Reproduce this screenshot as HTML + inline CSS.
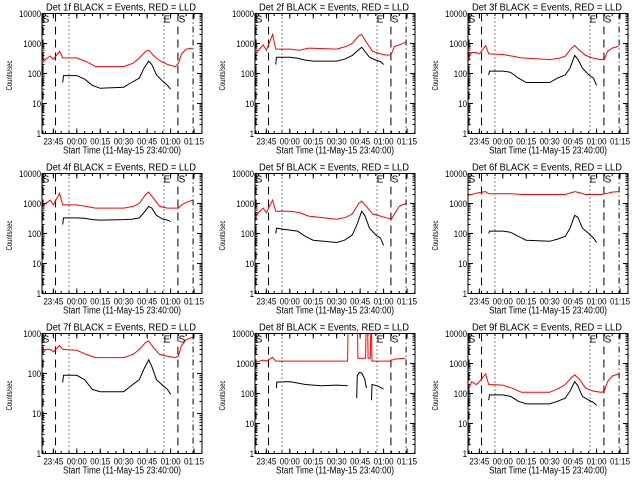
<!DOCTYPE html>
<html><head><meta charset="utf-8"><style>
html,body{margin:0;padding:0;background:#fff;}
svg{display:block;font-family:"Liberation Sans",sans-serif;}
</style></head><body>
<svg id="chart" width="640" height="480" viewBox="0 0 640 480" xmlns="http://www.w3.org/2000/svg"></svg>
<script>
// Shared data
const redTimes = [-22,-20,-17,-15,-11,-9,0,6,12,30,36,40,44,46,49,53,58,63,65,67,70,74];
const blackTimes = [-9,-8.5,0,5,10,15,30,35,40,43,46,48,51,55,58,60];
const tickLabelsX = ["23:45","00:00","00:15","00:30","00:45","01:00","01:15"];
const tickMinutesX = [-15,0,15,30,45,60,75];
const detNames = ["1f","2f","3f","4f","5f","6f","7f","8f","9f"];
const red1 = [220,300,380,300,550,330,330,250,170,170,220,330,550,600,400,270,200,170,220,450,650,700];
const black1 = [50,85,85,65,40,32,35,50,70,150,260,200,90,55,40,30];
const red2 = [470,600,900,600,2000,650,650,600,700,650,800,1000,1800,2000,1100,550,450,400,450,800,900,1100];
const black2 = [200,350,350,320,280,260,260,300,400,550,750,550,350,280,250,200];
const red3 = [300,500,500,450,850,450,430,380,330,290,320,380,700,850,600,400,320,290,300,550,700,800];
const black3 = [90,120,120,110,70,50,50,70,90,150,400,300,150,90,70,40];
const red4 = [700,1000,1300,900,2200,900,900,800,700,700,800,1000,2000,2400,1500,800,700,700,700,900,1100,1300];
const black4 = [200,330,330,320,290,280,290,300,330,500,800,700,400,300,280,250];
const red5 = [350,500,700,500,1300,550,550,500,380,300,350,450,1000,1200,800,450,380,320,300,450,800,1000];
const black5 = [100,150,130,120,80,60,50,60,90,200,550,400,150,90,70,40];
const red6 = [1900,2000,2200,2300,2500,2100,2100,2100,2000,2000,2000,2000,2300,2500,2300,2000,2000,2000,2100,2200,2400,2500];
const black6 = [100,120,120,110,80,60,55,65,80,150,400,350,150,100,70,50];
const red7 = [300,400,400,350,500,400,380,300,250,250,300,400,600,650,450,300,270,250,270,500,700,800];
const black7 = [60,90,90,70,40,35,35,50,70,130,220,150,70,50,40,30];
const redTimes8 = [-22,-17,-15,-11,-9,0,30,37,37.3,43.3,43.6,48.5,48.8,49.8,50.1,51.5,51.8,52.3,52.6,64,67,74];
const red8 = [1100,1300,1200,1600,1200,1200,1200,1200,20000,20000,1500,1500,20000,20000,1500,1500,20000,20000,1200,1200,1400,1500];
const blackTimes8 = [-8.5,-8.3,0,10,20,30,37,38,42.8,43.2,44.5,46,48,49,50,52.3,52.6,56,60];
const black8 = [150,240,250,200,180,190,180,null,70,400,500,480,300,150,null,60,200,180,140];
const red9 = [130,250,200,250,450,200,190,150,110,110,150,200,350,420,300,150,120,110,120,250,380,450];
const black9 = [60,90,90,80,55,45,45,55,70,120,250,180,80,60,50,40];

const panels = [
 {red:red1,black:black1},{red:red2,black:black2},{red:red3,black:black3},
 {red:red4,black:black4},{red:red5,black:black5},{red:red6,black:black6,noLeft:true},
 {red:red7,black:black7,decades:3},{red:red8,black:black8,rt:redTimes8,bt:blackTimes8},{red:red9,black:black9}
];

const svg = document.getElementById('chart');
const NS = 'http://www.w3.org/2000/svg';
function mk(tag, attrs, parent){
  const e = document.createElementNS(NS, tag);
  for (const k in attrs) e.setAttribute(k, attrs[k]);
  (parent||svg).appendChild(e);
  return e;
}
const W = 160, H = 120;

panels.forEach((p, i) => {
  const col = i % 3, row = Math.floor(i / 3);
  const L = 42 + col * 213, T = 13.5 + row * 160, B = T + H, R = L + W;
  const dec = p.decades || 4;
  const g = mk('g', {});
  
  
  const xs = m => L + 34.8 + 1.563 * m;
  const ys = v => B - (Math.log10(v) / dec) * H;
  const clipId = 'clip' + i;
  const cp = mk('clipPath', {id: clipId}, g);
  mk('rect', {x: L, y: T, width: W, height: H}, cp);

  const t = mk('text', {x: L + 4, y: T - 3, 'font-size': 10, fill: '#000', textLength: 150, lengthAdjust: 'spacingAndGlyphs'}, g);
  t.textContent = 'Det ' + detNames[i] + ' BLACK = Events, RED = LLD';
  
  

  const fr = mk('rect', {x: L, y: T, width: W, height: H, fill: 'none', stroke: '#000', 'stroke-width': 1}, g);
  
  

  for (let d = 0; d <= dec; d++) {
    const y = B - d / dec * H;
    mk('line', {x1: L, x2: L + 5, y1: y, y2: y, stroke: '#000'}, g);
    mk('line', {x1: R, x2: R - 5, y1: y, y2: y, stroke: '#000'}, g);
    const s = String(Math.pow(10, d));
    const lb = mk('text', {x: L - 1, y: y + 3.5, 'text-anchor': 'end', 'font-size': 9, fill: '#000', textLength: s.length * 4.4, lengthAdjust: 'spacingAndGlyphs'}, g);
    lb.textContent = s;
    
    
    if (d < dec) for (let k = 2; k <= 9; k++) {
      const ym = ys(Math.pow(10, d) * k);
      mk('line', {x1: L, x2: L + 2.5, y1: ym, y2: ym, stroke: '#000'}, g);
      mk('line', {x1: R, x2: R - 2.5, y1: ym, y2: ym, stroke: '#000'}, g);
    }
  }
  tickMinutesX.forEach((m, j) => {
    const x = xs(m);
    mk('line', {x1: x, x2: x, y1: B, y2: B - 5, stroke: '#000'}, g);
    mk('line', {x1: x, x2: x, y1: T, y2: T + 5, stroke: '#000'}, g);
    const lb = mk('text', {x: x - 10, y: B + 11, 'font-size': 9, fill: '#000', textLength: 20, lengthAdjust: 'spacingAndGlyphs'}, g);
    lb.textContent = tickLabelsX[j];
    
    
  });
  for (let m = -20; m <= 80; m += 5) {
    const x = xs(m);
    if (x < L || x > R) continue;
    mk('line', {x1: x, x2: x, y1: B, y2: B - 2.5, stroke: '#000'}, g);
    mk('line', {x1: x, x2: x, y1: T, y2: T + 2.5, stroke: '#000'}, g);
  }
  const xt = mk('text', {x: L + 21, y: B + 20, 'font-size': 10, fill: '#000', textLength: 118, lengthAdjust: 'spacingAndGlyphs'}, g);
  xt.textContent = 'Start Time (11-May-15 23:40:00)';
  
  
  const yt = mk('text', {x: -15, y: 0, 'font-size': 8, fill: '#000', textLength: 30, lengthAdjust: 'spacingAndGlyphs', transform: 'translate(' + (L - 30) + ',' + (T + H/2 + 2) + ') rotate(-90)'}, g);
  yt.textContent = 'Counts/sec';
  
  

  const vl = [
    {m: -13.6, d: '8,5'}, {m: -5, d: '1,3'}, {m: 55.8, d: '1,3'}, {m: 64.7, d: '8,5'}, {m: 74.4, d: '6,3,1,3'}
  ];
  if (!p.noLeft) vl.push({m: -21.6, d: '8,5'});
  vl.forEach(v => {
    const ln = mk('line', {x1: xs(v.m), x2: xs(v.m), y1: T, y2: B, stroke: '#000', 'stroke-dasharray': v.d}, g);
    
    
  });
  [['S', L + 4], ['E', L + 125], ['S', L + 140]].forEach(a => {
    const s = mk('text', {x: a[1], y: T + 9, 'text-anchor': 'middle', 'font-size': 10, fill: '#000'}, g);
    s.textContent = a[0];
    
    
  });

  function path(times, vals) {
    let d = '', pen = false;
    times.forEach((m, j) => {
      const v = vals[j];
      if (v == null) { pen = false; return; }
      d += (pen ? 'L' : 'M') + xs(m).toFixed(1) + ' ' + ys(v).toFixed(1) + ' ';
      pen = true;
    });
    return d;
  }
  const rp = mk('path', {d: path(p.rt || redTimes, p.red), fill: 'none', stroke: '#ff0000', 'stroke-width': 1, 'clip-path': 'url(#' + clipId + ')'}, g);
  
  
  const bp = mk('path', {d: path(p.bt || blackTimes, p.black), fill: 'none', stroke: '#000', 'stroke-width': 1, 'clip-path': 'url(#' + clipId + ')'}, g);
  
  
});
</script>
</body></html>
